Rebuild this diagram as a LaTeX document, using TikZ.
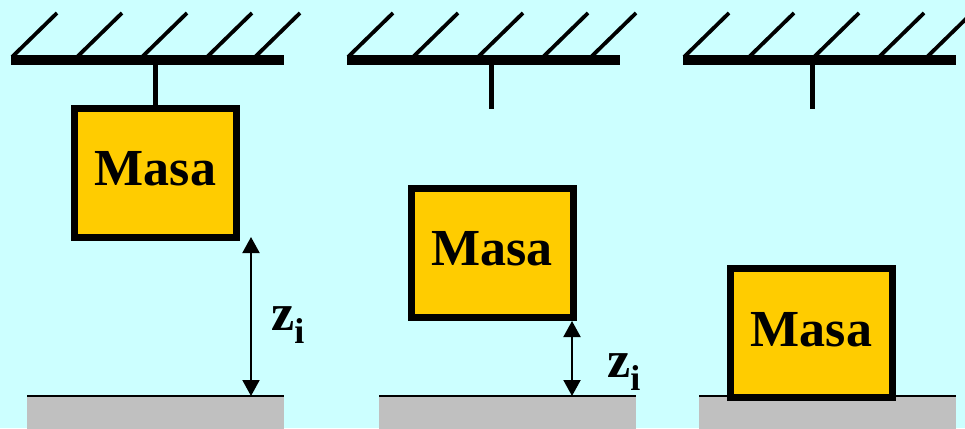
\documentclass[tikz,border=0pt]{standalone}
\usepackage{fontspec}
\setmainfont{Liberation Serif}
\usetikzlibrary{arrows.meta}
\definecolor{bgcol}{HTML}{CCFFFF}
\definecolor{masacol}{HTML}{FFCC00}
\definecolor{groundcol}{HTML}{C0C0C0}
\tikzset{
  bar/.style={line width=9pt, line cap=butt},
  hatch/.style={line width=3.8pt, line cap=butt},
  hanger/.style={line width=5pt, line cap=butt},
  masabox/.style={draw=black, fill=masacol, line width=7pt, minimum width=162pt, minimum height=129pt, inner sep=0pt},
  masatext/.style={font=\fontsize{52}{60}\selectfont\bfseries, inner sep=0pt, anchor=base},
  groundbox/.style={fill=groundcol, inner sep=0pt, minimum width=257pt, minimum height=34pt, anchor=north west},
  groundline/.style={line width=2pt},
  dim/.style={line width=2pt, {Triangle[length=16pt,width=17pt]}-{Triangle[length=16pt,width=17pt]}},
  zlab/.style={font=\fontsize{52}{60}\selectfont\bfseries, inner sep=0pt, anchor=base west}
}
\begin{document}
\begin{tikzpicture}[x=1pt,y=-1pt]
\fill[bgcol] (0,0) rectangle (965,428);
\useasboundingbox (0,0) rectangle (965,428);
% ceilings
\foreach \b/\n in {11/1,347/2,683/3}{
  \foreach \o in {1,66,131,196,244}
    \draw[hatch] (\b+\o,57) -- ++(45,-44);
  \coordinate (cl\n) at (\b,60);
  \coordinate (cr\n) at (\b+273,60);
  \draw[bar] (cl\n) -- (cr\n);
}
\coordinate (h1) at (155.5,60);
\coordinate (h2) at (491,60);
\coordinate (h3) at (812,60);
% grounds
\node[groundbox] (g1) at (27,396) {};
\node[groundbox] (g2) at (379,396) {};
\node[groundbox] (g3) at (699,396) {};
\draw[groundline] (g1.north west) -- (g1.north east);
\draw[groundline] (g2.north west) -- (g2.north east);
\draw[groundline] (g3.north west) -- (g3.north east);
% boxes
\node[masabox] (m1) at (155.5,172.5) {};
\draw[hanger] (h1) -- (m1.north);
\node[masabox] (m1) at (155.5,172.5) {};
\node[masatext] (t1) at ([yshift=-12.5pt]m1.center) {Masa};
\draw[hanger] (h2) -- ++(0,49);
\node[masabox] (m2) at (492,253) {};
\node[masatext] (t2) at ([yshift=-12pt]m2.center) {Masa};
\draw[hanger] (h3) -- ++(0,49);
\node[masabox] (m3) at (811.5,333) {};
\node[masatext] (t3) at ([yshift=-13pt]m3.center) {Masa};
% dimension arrows
\coordinate (a1) at (251,237);
\coordinate (a2) at (572,321);
\draw[dim] (a1) -- (a1 |- g1.north);
\draw[dim] (a2) -- (a2 |- g2.north);
\node[zlab] (z1) at (271,330) {z\raisebox{-13pt}{\fontsize{36}{36}\selectfont i}};
\node[zlab] (z2) at (607,377) {z\raisebox{-13pt}{\fontsize{36}{36}\selectfont i}};
\end{tikzpicture}
\end{document}
